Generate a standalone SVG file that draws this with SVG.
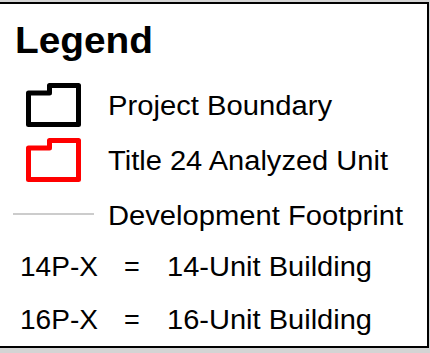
<svg xmlns="http://www.w3.org/2000/svg" width="430" height="353" viewBox="0 0 430 353">
<style>
.t{font-family:"Liberation Sans",Arial,sans-serif;font-size:27px;fill:#000}
.h{font-family:"Liberation Sans",Arial,sans-serif;font-size:36px;font-weight:bold;fill:#000}
.ico{fill:none;stroke-width:5;stroke-linejoin:round}
</style>
<rect x="0" y="0" width="430" height="353" fill="#d4d4d4"/>
<g id="frame">
<rect x="-5" y="3" width="433" height="344" fill="#fff" stroke="#000" stroke-width="2"/>
</g>
<g id="title"><text class="h" x="15" y="53" textLength="138" lengthAdjust="spacingAndGlyphs">Legend</text></g>
<g id="project-boundary">
<path class="ico" stroke="#000" d="M28.5,124.5 L28.5,93 L49.5,93 L49.5,85.5 L78.5,85.5 L78.5,124.5 Z"/>
<text class="t" x="108" y="115" textLength="224" lengthAdjust="spacingAndGlyphs">Project Boundary</text>
</g>
<g id="title24">
<path class="ico" stroke="#f00" d="M28.5,179.5 L28.5,148 L49.5,148 L49.5,140.5 L78.5,140.5 L78.5,179.5 Z"/>
<text class="t" x="108" y="170" textLength="280" lengthAdjust="spacingAndGlyphs">Title 24 Analyzed Unit</text>
</g>
<g id="footprint">
<line x1="13" y1="214" x2="94" y2="214" stroke="#999" stroke-width="1"/>
<text class="t" x="108" y="225" textLength="295" lengthAdjust="spacingAndGlyphs">Development Footprint</text>
</g>
<g id="row14">
<text class="t" x="20" y="276" textLength="78" lengthAdjust="spacingAndGlyphs">14P-X</text>
<text class="t" x="124" y="276">=</text>
<text class="t" x="167" y="276" textLength="205" lengthAdjust="spacingAndGlyphs">14-Unit Building</text>
</g>
<g id="row16">
<text class="t" x="20" y="329" textLength="78" lengthAdjust="spacingAndGlyphs">16P-X</text>
<text class="t" x="124" y="329">=</text>
<text class="t" x="167" y="329" textLength="205" lengthAdjust="spacingAndGlyphs">16-Unit Building</text>
</g>
</svg>
